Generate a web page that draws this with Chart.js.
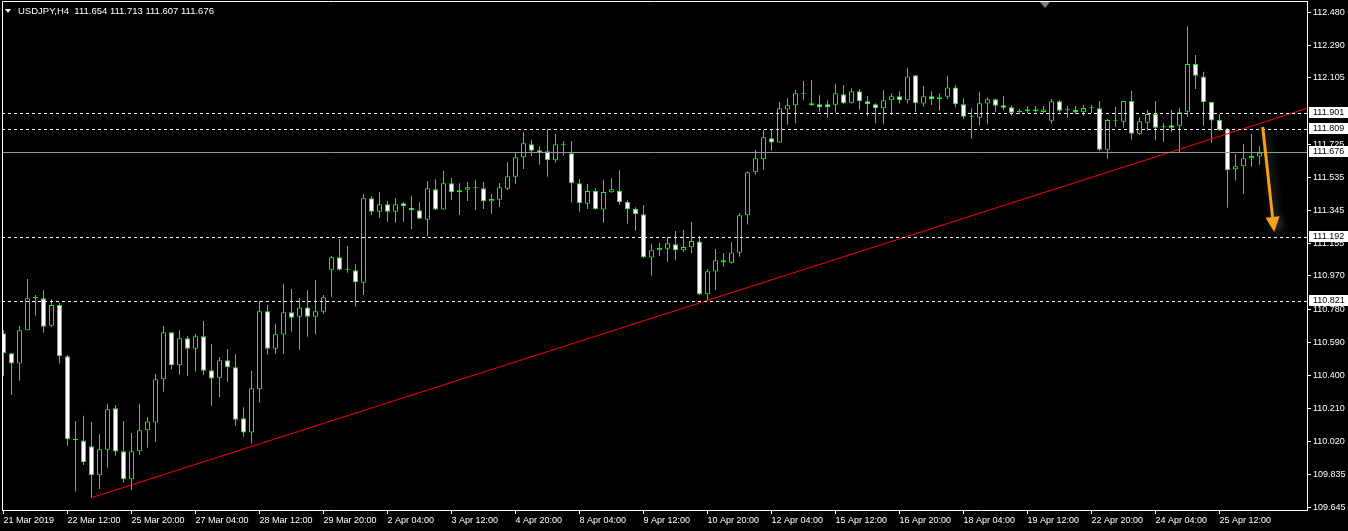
<!DOCTYPE html>
<html>
<head>
<meta charset="utf-8">
<title>USDJPY,H4</title>
<script src="https://cdn.jsdelivr.net/npm/chart.js@4.4.1/dist/chart.umd.min.js"></script>
<style>
  html, body { margin: 0; padding: 0; background: #000; }
  #wrap { position: relative; width: 1348px; height: 531px; overflow: hidden; }
  #head { position: absolute; left: 18px; top: 6px; color: #fff; font: 9.5px 'Liberation Sans', Arial, sans-serif; line-height: 9px; white-space: pre; }
  #tri { position: absolute; left: 5px; top: 9px; width: 0; height: 0; border-left: 3.5px solid transparent; border-right: 3.5px solid transparent; border-top: 4px solid #fff; }
  #shift { position: absolute; left: 1040px; top: 2px; width: 0; height: 0; border-left: 5px solid transparent; border-right: 5px solid transparent; border-top: 6px solid #7f7f7f; }
</style>
</head>
<body>
<div id="wrap">
  <canvas id="chart" width="1348" height="531"></canvas>
  <div id="tri"></div>
  <div id="head">USDJPY,H4  111.654 111.713 111.607 111.676</div>
  <div id="shift"></div>
</div>
<script>
// x axis: one label every 8 bars (H4)
const timeTicks = ['21 Mar 2019', '22 Mar 12:00', '25 Mar 20:00', '27 Mar 04:00', '28 Mar 12:00',
    '29 Mar 20:00', '2 Apr 04:00', '3 Apr 12:00', '4 Apr 20:00', '8 Apr 04:00', '9 Apr 12:00',
    '10 Apr 20:00', '12 Apr 04:00', '15 Apr 12:00', '16 Apr 20:00', '18 Apr 04:00', '19 Apr 12:00',
    '22 Apr 20:00', '24 Apr 04:00', '25 Apr 12:00'];

const priceTicks = [112.480, 112.290, 112.105, 111.725, 111.535, 111.345, 111.155, 110.970,
    110.780, 110.590, 110.400, 110.210, 110.020, 109.835, 109.645];

const opens = [
    110.642, 110.527, 110.468, 110.659, 110.844, 110.842, 110.685, 110.804, 110.510, 110.030,
    110.028, 109.995, 109.828, 109.975, 110.212, 109.966, 109.806, 109.966, 110.086, 110.131,
    110.378, 110.647, 110.458, 110.613, 110.553, 110.624, 110.430, 110.387, 110.487, 110.447,
    110.155, 110.073, 110.321, 110.768, 110.553, 110.634, 110.762, 110.737, 110.790, 110.737,
    110.765, 111.006, 111.077, 111.006, 111.003, 110.931, 111.415, 111.338, 111.380, 111.338,
    111.386, 111.361, 111.346, 111.292, 111.466, 111.350, 111.501, 111.461, 111.464, 111.475,
    111.472, 111.398, 111.407, 111.470, 111.538, 111.650, 111.724, 111.690, 111.684, 111.632,
    111.721, 111.673, 111.501, 111.384, 111.457, 111.350, 111.449, 111.457, 111.394, 111.354,
    111.323, 111.075, 111.117, 111.126, 111.151, 111.117, 111.134, 111.168, 110.865, 110.995,
    111.048, 111.046, 111.103, 111.317, 111.564, 111.638, 111.758, 111.735, 111.924, 111.947,
    112.013, 111.947, 111.953, 111.953, 111.951, 112.010, 111.962, 112.028, 111.970, 111.953,
    111.930, 111.976, 111.999, 111.976, 112.119, 111.957, 111.999, 111.982, 111.997, 112.050,
    111.953, 111.882, 111.876, 111.957, 111.982, 111.947, 111.936, 111.909, 111.924, 111.924,
    111.909, 111.859, 111.970, 111.919, 111.920, 111.907, 111.930, 111.930, 111.693, 111.859,
    111.853, 111.972, 111.785, 111.848, 111.898, 111.821, 111.833, 111.830, 111.911, 112.184,
    112.113, 111.966, 111.863, 111.810, 111.581, 111.598, 111.644, 111.654];

const highs = [
    110.661, 110.527, 110.683, 110.953, 110.861, 110.890, 110.836, 110.817, 110.517, 110.139,
    110.170, 110.134, 110.065, 110.237, 110.231, 110.139, 110.071, 110.237, 110.162, 110.409,
    110.683, 110.647, 110.661, 110.626, 110.638, 110.712, 110.580, 110.506, 110.552, 110.523,
    110.218, 110.426, 110.827, 110.804, 110.695, 110.924, 110.895, 110.844, 110.890, 110.947,
    110.861, 111.084, 111.182, 111.142, 111.039, 111.439, 111.428, 111.451, 111.399, 111.415,
    111.394, 111.428, 111.394, 111.514, 111.524, 111.571, 111.531, 111.501, 111.508, 111.520,
    111.508, 111.439, 111.502, 111.623, 111.680, 111.794, 111.749, 111.713, 111.810, 111.783,
    111.743, 111.743, 111.524, 111.497, 111.472, 111.520, 111.531, 111.577, 111.403, 111.363,
    111.376, 111.153, 111.159, 111.193, 111.228, 111.233, 111.279, 111.199, 111.010, 111.124,
    111.101, 111.165, 111.331, 111.569, 111.691, 111.806, 111.810, 111.966, 111.989, 112.035,
    112.087, 112.092, 112.005, 111.976, 112.069, 112.064, 112.045, 112.041, 112.001, 111.959,
    112.035, 112.016, 112.028, 112.161, 112.119, 112.058, 112.028, 112.016, 112.115, 112.064,
    111.987, 111.930, 112.024, 111.993, 111.987, 112.001, 111.947, 111.926, 111.942, 111.943,
    111.943, 111.983, 111.978, 111.943, 111.943, 111.949, 111.949, 111.972, 111.871, 111.938,
    111.972, 112.029, 111.879, 111.920, 111.972, 111.844, 111.920, 111.932, 112.398, 112.235,
    112.140, 111.966, 111.896, 111.816, 111.668, 111.726, 111.783, 111.713];

const lows = [
    110.397, 110.288, 110.370, 110.659, 110.742, 110.645, 110.678, 110.468, 109.998, 109.735,
    109.887, 109.700, 109.750, 109.872, 109.941, 109.786, 109.744, 109.946, 109.986, 110.020,
    110.307, 110.435, 110.404, 110.397, 110.422, 110.403, 110.225, 110.277, 110.363, 110.113,
    110.050, 110.012, 110.244, 110.519, 110.525, 110.525, 110.651, 110.548, 110.622, 110.634,
    110.754, 110.851, 111.000, 110.989, 110.794, 110.861, 111.319, 111.304, 111.279, 111.275,
    111.279, 111.239, 111.296, 111.199, 111.348, 111.349, 111.405, 111.319, 111.399, 111.348,
    111.354, 111.325, 111.365, 111.462, 111.497, 111.583, 111.657, 111.607, 111.538, 111.619,
    111.659, 111.390, 111.338, 111.354, 111.350, 111.275, 111.447, 111.378, 111.269, 111.229,
    111.071, 110.971, 111.084, 111.050, 111.061, 111.107, 111.102, 110.861, 110.832, 110.890,
    111.023, 111.040, 111.080, 111.264, 111.550, 111.579, 111.687, 111.733, 111.836, 111.844,
    111.978, 111.945, 111.911, 111.876, 111.905, 111.953, 111.957, 111.924, 111.884, 111.844,
    111.839, 111.892, 111.957, 111.957, 111.909, 111.939, 111.949, 111.916, 111.982, 111.936,
    111.867, 111.756, 111.833, 111.839, 111.907, 111.919, 111.888, 111.896, 111.902, 111.907,
    111.902, 111.842, 111.907, 111.876, 111.898, 111.888, 111.903, 111.686, 111.642, 111.825,
    111.819, 111.750, 111.779, 111.802, 111.749, 111.737, 111.794, 111.676, 111.882, 112.041,
    111.829, 111.733, 111.802, 111.361, 111.516, 111.441, 111.596, 111.607];

const closes = [
    110.527, 110.468, 110.659, 110.842, 110.844, 110.679, 110.804, 110.510, 110.035, 110.030,
    109.903, 109.828, 109.977, 110.206, 109.964, 109.806, 109.966, 110.086, 110.137, 110.378,
    110.647, 110.458, 110.613, 110.553, 110.624, 110.427, 110.382, 110.487, 110.447, 110.147,
    110.073, 110.327, 110.768, 110.553, 110.636, 110.762, 110.731, 110.790, 110.737, 110.768,
    110.848, 111.077, 111.006, 111.006, 110.934, 111.415, 111.338, 111.380, 111.338, 111.380,
    111.369, 111.346, 111.298, 111.472, 111.350, 111.501, 111.449, 111.449, 111.478, 111.475,
    111.398, 111.411, 111.478, 111.541, 111.650, 111.730, 111.687, 111.676, 111.632, 111.724,
    111.721, 111.501, 111.386, 111.457, 111.352, 111.451, 111.466, 111.392, 111.352, 111.323,
    111.077, 111.117, 111.130, 111.157, 111.117, 111.136, 111.170, 110.865, 110.997, 111.060,
    111.060, 111.105, 111.317, 111.564, 111.644, 111.764, 111.735, 111.930, 111.947, 112.016,
    112.013, 111.959, 111.936, 111.936, 112.016, 111.959, 112.028, 111.970, 111.953, 111.930,
    111.976, 111.999, 111.976, 112.113, 111.959, 111.999, 111.982, 111.993, 112.050, 111.953,
    111.882, 111.882, 111.959, 111.982, 111.945, 111.934, 111.905, 111.909, 111.913, 111.913,
    111.924, 111.970, 111.916, 111.919, 111.907, 111.932, 111.930, 111.693, 111.863, 111.859,
    111.972, 111.785, 111.856, 111.898, 111.819, 111.821, 111.819, 111.907, 112.184, 112.117,
    111.965, 111.861, 111.804, 111.575, 111.598, 111.644, 111.657, 111.676];

// horizontal lines drawn on the chart, the bid line, trend line and the arrow
const levels = [111.901, 111.809, 111.192, 110.821];
const bidPrice = 111.676;
const trendX = [11, 162.94];
const trendY = [109.700, 111.930];
const arrowX = [157.4, 158.84];
const arrowY = [111.823, 111.222];

// visible range of the window
const xMin = -0.1875, xMax = 162.9375;
const yMin = 109.6296, yMax = 112.5447;

const GREEN = '#00ff00';
const ORANGE = '#f5a21a';

Chart.defaults.font.family = "'Liberation Sans', Arial, sans-serif";
Chart.defaults.font.size = 9;
Chart.defaults.color = '#ffffff';

const bodies = opens.map((o, i) => ({ x: i, y: [o, closes[i]] }));
const wicks = lows.map((l, i) => ({ x: i, y: [l, highs[i]] }));
const bodyFill = opens.map((o, i) => closes[i] < o ? '#ffffff' : '#000000');
const trend = trendX.map((x, i) => ({ x: x, y: trendY[i] }));

function row(px) {
    return Math.floor(px);
}

const overlay = {
    id: 'overlay',
    afterDatasetsDraw(chart) {
        const ctx = chart.ctx;
        const area = chart.chartArea;
        const ys = chart.scales.y, xs = chart.scales.x;
        ctx.save();
        ctx.beginPath();
        ctx.rect(area.left, area.top, area.right - area.left, area.bottom - area.top);
        ctx.clip();

        // bid line
        let r = row(ys.getPixelForValue(bidPrice));
        ctx.strokeStyle = '#8f99a3';
        ctx.lineWidth = 1;
        ctx.beginPath();
        ctx.moveTo(area.left, r + 0.5);
        ctx.lineTo(area.right, r + 0.5);
        ctx.stroke();

        // dashed levels
        ctx.strokeStyle = '#ffffff';
        ctx.setLineDash([3, 3]);
        levels.forEach(function(v) {
            const r = row(ys.getPixelForValue(v));
            ctx.beginPath();
            ctx.moveTo(area.left, r + 0.5);
            ctx.lineTo(area.right, r + 0.5);
            ctx.stroke();
        });
        ctx.setLineDash([]);

        // arrow
        const x0 = xs.getPixelForValue(arrowX[0]), y0 = ys.getPixelForValue(arrowY[0]);
        const x1 = xs.getPixelForValue(arrowX[1]), y1 = ys.getPixelForValue(arrowY[1]);
        const ang = Math.atan2(y1 - y0, x1 - x0);
        const headLen = 15, headHalf = 7;
        const bx = x1 - headLen * Math.cos(ang), by = y1 - headLen * Math.sin(ang);
        ctx.shadowColor = 'rgba(120,120,120,0.6)';
        ctx.shadowBlur = 8;
        ctx.shadowOffsetX = 3;
        ctx.shadowOffsetY = 2;
        ctx.strokeStyle = ORANGE;
        ctx.lineWidth = 3;
        ctx.beginPath();
        ctx.moveTo(x0, y0);
        ctx.lineTo(bx, by);
        ctx.stroke();
        ctx.fillStyle = ORANGE;
        ctx.beginPath();
        ctx.moveTo(x1, y1);
        ctx.lineTo(bx + headHalf * Math.sin(ang), by - headHalf * Math.cos(ang));
        ctx.lineTo(bx - headHalf * Math.sin(ang), by + headHalf * Math.cos(ang));
        ctx.closePath();
        ctx.fill();
        ctx.restore();
    },
    afterDraw(chart) {
        const ctx = chart.ctx;
        const area = chart.chartArea;
        const ys = chart.scales.y;
        ctx.save();

        // frame top and left
        ctx.strokeStyle = '#ffffff';
        ctx.lineWidth = 1;
        ctx.beginPath();
        ctx.moveTo(area.left + 0.5, area.bottom);
        ctx.lineTo(area.left + 0.5, area.top + 0.5);
        ctx.lineTo(area.right, area.top + 0.5);
        ctx.stroke();

        // price labels of the lines
        ctx.font = "9px 'Liberation Sans', Arial, sans-serif";
        ctx.textBaseline = 'middle';
        ctx.textAlign = 'left';
        levels.concat([bidPrice]).forEach(function(v) {
            const r = row(ys.getPixelForValue(v));
            ctx.fillStyle = '#ffffff';
            ctx.fillRect(area.right + 2, r - 6, chart.width - area.right - 2, 11);
            ctx.fillStyle = '#000000';
            ctx.fillText(v.toFixed(3), area.right + 6, r);
        });
        ctx.restore();
    }
};

new Chart(document.getElementById('chart'), {
    type: 'bar',
    data: {
        datasets: [
            {
                type: 'line',
                data: trend,
                borderColor: '#ff0000',
                borderWidth: 1,
                pointRadius: 0,
                order: 0
            },
            {
                data: bodies,
                backgroundColor: bodyFill,
                borderColor: GREEN,
                borderWidth: 1,
                borderSkipped: false,
                barThickness: 5,
                minBarLength: 1,
                grouped: false,
                inflateAmount: 0,
                order: 1
            },
            {
                data: wicks,
                backgroundColor: GREEN,
                borderWidth: 0,
                barThickness: 1,
                grouped: false,
                inflateAmount: 0,
                order: 2
            }
        ]
    },
    options: {
        responsive: false,
        animation: false,
        events: [],
        layout: { padding: { left: 2, top: 1, right: 0, bottom: 0 } },
        plugins: {
            legend: { display: false },
            tooltip: { enabled: false }
        },
        scales: {
            x: {
                type: 'linear',
                min: xMin,
                max: xMax,
                offset: false,
                afterBuildTicks: function(s) {
                    s.ticks = timeTicks.map((t, k) => ({ value: k * 8 }));
                },
                afterFit: function(s) {
                    s.height = 21;
                    s.paddingLeft = 0;
                    s.paddingRight = 0;
                },
                ticks: {
                    autoSkip: false,
                    maxRotation: 0,
                    align: 'start',
                    padding: 1,
                    color: '#ffffff',
                    callback: (v, k) => timeTicks[k]
                },
                grid: { drawOnChartArea: false, tickLength: 4, color: '#ffffff', offset: false },
                border: { color: '#ffffff' }
            },
            y: {
                type: 'linear',
                position: 'right',
                min: yMin,
                max: yMax,
                afterBuildTicks: function(s) {
                    s.ticks = priceTicks.map(v => ({ value: v }));
                },
                afterFit: function(s) {
                    s.width = 41;
                    s.paddingTop = 0;
                    s.paddingBottom = 0;
                },
                ticks: {
                    autoSkip: false,
                    padding: 2,
                    color: '#ffffff',
                    callback: v => v.toFixed(3)
                },
                grid: { drawOnChartArea: false, tickLength: 4, color: '#ffffff' },
                border: { color: '#ffffff' }
            }
        }
    },
    plugins: [overlay]
});
</script>
</body>
</html>
